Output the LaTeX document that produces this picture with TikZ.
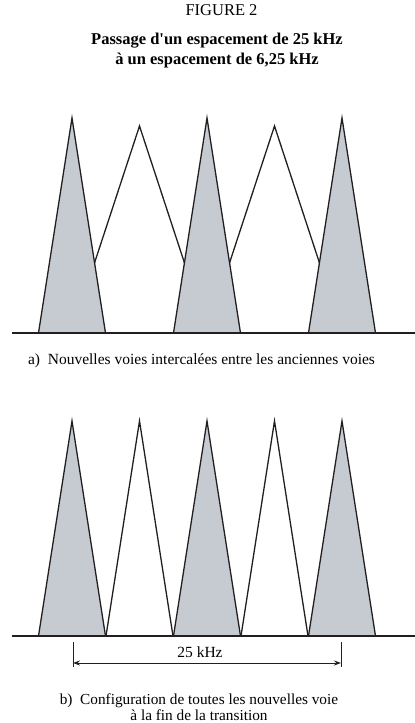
\documentclass[tikz,border=0pt]{standalone}
\usepackage{fontspec}
\setmainfont{Liberation Serif}
\usetikzlibrary{arrows.meta}
\definecolor{Ink}{HTML}{231F20}
\definecolor{Chan}{HTML}{C6CBD2}
\newcommand{\oldchan}[3]{%
  \draw[fill=Chan,draw=Ink,line width=1.3pt,line join=miter] (#1-33.5,#2) -- (#1,#2-#3) -- (#1+33.5,#2) -- cycle;
}
\newcommand{\newchan}[4]{%
  \draw[draw=Ink,line width=1.3pt] (#1-#4,#2) -- (#1,#2-#3) -- (#1+#4,#2);
}
\begin{document}
\begin{tikzpicture}[x=1pt,y=-1pt,inner sep=0pt,font=\fontsize{15.5}{16}\selectfont]
        \useasboundingbox (0,0) rectangle (415,723);
        \node[font=\fontsize{16.5}{20}\selectfont] (fig) at (221.5,10.5) {FIGURE 2};
        \node[font=\fontsize{16.5}{20}\selectfont\bfseries,align=center] (title) at (217,51) {Passage d\textquotesingle un espacement de 25 kHz\\à un espacement de 6,25 kHz};
        % a) ancien plan + voies intercalees
        \foreach \x in {139.5,274.5}{\newchan{\x}{333}{207}{68}}
        \foreach \x in {72,207,342}{\oldchan{\x}{333}{215}}
        \draw[Ink,line width=1.3pt] (12,333) -- (415,333);
        \node (capa) at (201.5,361) {a)\ \ Nouvelles voies intercalées entre les anciennes voies};
        % b) fin de la transition
        \foreach \x in {139.5,274.5}{\newchan{\x}{636}{215}{33.5}}
        \foreach \x in {72,207,342}{\oldchan{\x}{636}{215}}
        \draw[Ink,line width=1.3pt] (12,636) -- (415,636);
        \coordinate (tl) at (73,642);\coordinate (tr) at (341,642);
        \draw[Ink,line width=1pt] (tl) -- ++(0,25) coordinate (al);
        \draw[Ink,line width=1pt] (tr) -- ++(0,25) coordinate (ar);
        \draw[Ink,line width=1pt,{Stealth[length=7pt,width=5pt]}-{Stealth[length=7pt,width=5pt]}] ([yshift=4pt]al) -- ([yshift=4pt]ar);
        \node (span) at (200,652) {25 kHz};
        \node[align=center,font=\fontsize{15.3}{16}\selectfont] (capb) at (199,707) {b)\ \ Configuration de toutes les nouvelles voie\\à la fin de la transition};
      \end{tikzpicture}
\end{document}
